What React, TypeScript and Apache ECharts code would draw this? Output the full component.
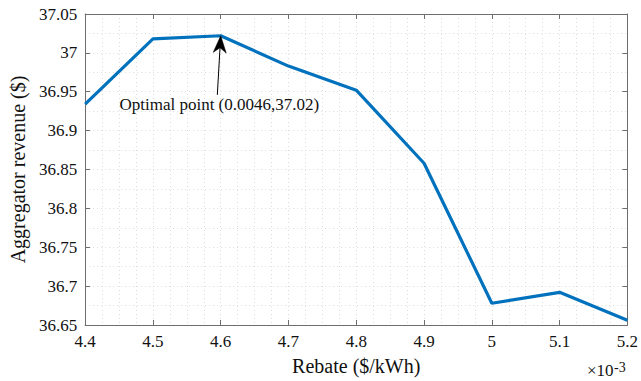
import { useEffect, useRef } from "react";
import * as echarts from "echarts";

// Rebate in units of 1e-3 $/kWh
const rebate = [4.4, 4.5, 4.6, 4.7, 4.8, 4.9, 5.0, 5.1, 5.2];
const revenue = [36.934, 37.018, 37.022, 36.983, 36.952, 36.858, 36.678, 36.692, 36.656];
const optimalPoint = [4.6, 37.022];
const arrowTail = [4.595, 36.946];
const annotationText = "Optimal point (0.0046,37.02)";
const xTitle = "Rebate ($/kWh)";
const yTitle = "Aggregator revenue ($)";
const exponentBase = "×10";
const exponentPower = "-3";

const FONT = "Liberation Serif";
const AXIS_COLOR = "#6e6e6e";
const GRID_COLOR = "#dcdcdc";

export default function App() {
  const ref = useRef<HTMLDivElement>(null);
  useEffect(() => {
    if (!ref.current) return;
    const chart = echarts.init(ref.current, null, { renderer: "svg" });
    const commonX = {
      type: "value" as const,
      min: 4.4,
      max: 5.2,
      interval: 0.1,
    };
    const commonY = {
      type: "value" as const,
      min: 36.65,
      max: 37.05,
      interval: 0.05,
    };
    chart.setOption({
      animation: false,
      backgroundColor: "#fff",
      textStyle: { fontFamily: FONT },
      grid: { left: 77, right: 11, top: 14, bottom: 56, containLabel: false },
      xAxis: [
        {
          ...commonX,
          position: "bottom",
          name: xTitle,
          nameLocation: "middle",
          nameGap: 31,
          nameTextStyle: { fontFamily: FONT, fontSize: 20, color: "#111" },
          axisLine: { show: true, lineStyle: { color: AXIS_COLOR, width: 1 } },
          axisTick: { show: true, inside: true, length: 5, lineStyle: { color: AXIS_COLOR } },
          axisLabel: {
            fontFamily: FONT,
            fontSize: 17,
            color: "#111",
            margin: 8,
            formatter: (v: number) => String(+v.toFixed(1)),
          },
          splitLine: { show: true, lineStyle: { color: GRID_COLOR, type: [1, 3], width: 1 } },
          minorTick: { show: false, splitNumber: 4 },
          minorSplitLine: { show: true, lineStyle: { color: GRID_COLOR, type: [1, 3], width: 1 } },
        },
        {
          ...commonX,
          position: "top",
          axisLine: { show: true, lineStyle: { color: AXIS_COLOR, width: 1 } },
          axisTick: { show: true, inside: true, length: 5, lineStyle: { color: AXIS_COLOR } },
          axisLabel: { show: false },
          splitLine: { show: false },
        },
      ],
      yAxis: [
        {
          ...commonY,
          position: "left",
          name: yTitle,
          nameLocation: "middle",
          nameGap: 54,
          nameRotate: 90,
          nameTextStyle: { fontFamily: FONT, fontSize: 20, color: "#111" },
          axisLine: { show: true, lineStyle: { color: AXIS_COLOR, width: 1 } },
          axisTick: { show: true, inside: true, length: 5, lineStyle: { color: AXIS_COLOR } },
          axisLabel: {
            fontFamily: FONT,
            fontSize: 17,
            color: "#111",
            margin: 8,
            formatter: (v: number) => String(+v.toFixed(2)),
          },
          splitLine: { show: true, lineStyle: { color: GRID_COLOR, type: [1, 3], width: 1 } },
          minorTick: { show: false, splitNumber: 2 },
          minorSplitLine: { show: true, lineStyle: { color: GRID_COLOR, type: [1, 3], width: 1 } },
        },
        {
          ...commonY,
          position: "right",
          axisLine: { show: true, lineStyle: { color: AXIS_COLOR, width: 1 } },
          axisTick: { show: true, inside: true, length: 5, lineStyle: { color: AXIS_COLOR } },
          axisLabel: { show: false },
          splitLine: { show: false },
        },
      ],
      series: [
        {
          type: "line",
          xAxisIndex: 0,
          yAxisIndex: 0,
          data: rebate.map((r, i) => [r, revenue[i]]),
          showSymbol: false,
          symbol: "none",
          lineStyle: { color: "#0072BD", width: 3.2 },
          itemStyle: { color: "#0072BD" },
          z: 3,
        },
      ],
    });

    const tip = chart.convertToPixel({ gridIndex: 0 }, optimalPoint) as number[];
    const tail = chart.convertToPixel({ gridIndex: 0 }, arrowTail) as number[];
    const dx = tip[0] - tail[0];
    const dy = tip[1] - tail[1];
    const len = Math.hypot(dx, dy);
    const ux = dx / len;
    const uy = dy / len;
    const px = -uy;
    const py = ux;
    const headLen = 17;
    const headHalf = 6.5;
    const notch = 12;
    const back = [tip[0] - ux * headLen, tip[1] - uy * headLen];
    const nPt = [tip[0] - ux * notch, tip[1] - uy * notch];
    const left = [back[0] + px * headHalf, back[1] + py * headHalf];
    const right = [back[0] - px * headHalf, back[1] - py * headHalf];

    chart.setOption({
      graphic: [
        {
          type: "line",
          shape: { x1: tail[0], y1: tail[1], x2: nPt[0], y2: nPt[1] },
          style: { stroke: "#000", lineWidth: 1 },
          z: 10,
        },
        {
          type: "polygon",
          shape: { points: [tip, left, nPt, right] },
          style: { fill: "#000", stroke: "#000", lineWidth: 0.5 },
          z: 10,
        },
        {
          type: "text",
          x: tail[0] + 2,
          y: tail[1] + 1,
          style: {
            text: annotationText,
            fontFamily: FONT,
            fontSize: 17,
            fill: "#111",
            align: "center",
            verticalAlign: "top",
          },
          z: 10,
        },
        {
          type: "text",
          x: 587,
          y: 379,
          style: {
            text: exponentBase,
            fontFamily: FONT,
            fontSize: 17,
            fill: "#111",
            align: "left",
            verticalAlign: "bottom",
          },
        },
        {
          type: "text",
          x: 614,
          y: 374,
          style: {
            text: exponentPower,
            fontFamily: FONT,
            fontSize: 14,
            fill: "#111",
            align: "left",
            verticalAlign: "bottom",
          },
        },
      ],
    });

    return () => chart.dispose();
  }, []);
  return <div ref={ref} style={{ width: 641, height: 381, position: "absolute", left: 0, top: 0 }} />;
}
